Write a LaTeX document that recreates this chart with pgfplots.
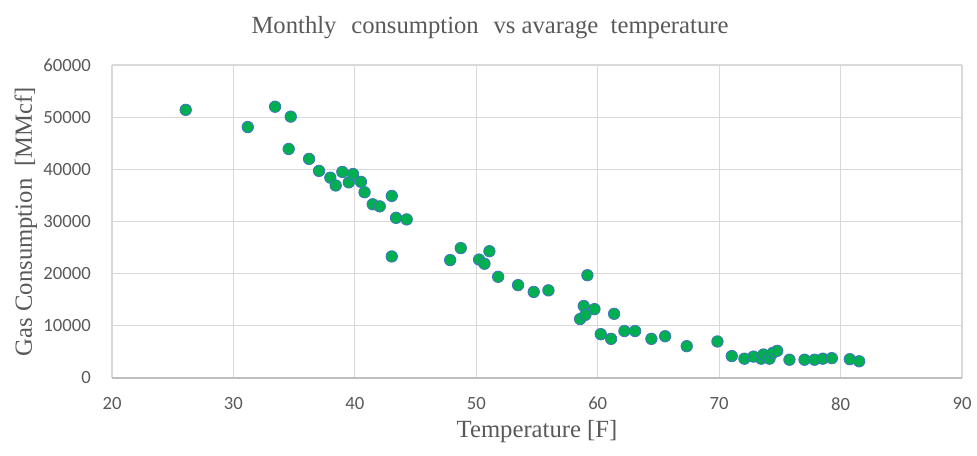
\documentclass[border=0pt]{standalone}
\usepackage{fontspec}
\setmainfont{Liberation Serif}
\newfontfamily\tickfont{Carlito}
\usepackage{pgfplots}
\pgfplotsset{compat=1.18}

\definecolor{txtgray}{HTML}{595959}
\definecolor{gridgray}{HTML}{D9D9D9}
\definecolor{axgray}{HTML}{BFBFBF}
\definecolor{ptgreen}{HTML}{00B050}
\definecolor{ptblue}{HTML}{4472C4}

\begin{document}
\begin{tikzpicture}
\begin{axis}[
	scale only axis,
	width=637.5pt, height=234.75pt,
	xmin=20, xmax=90, ymin=0, ymax=60000,
	xtick={20,30,...,90},
	ytick={0,10000,...,60000},
	scaled ticks=false,
	/pgf/number format/1000 sep={},
	/pgf/number format/assume math mode=true,
	axis x line*=bottom, axis y line*=left,
	x axis line style={axgray, line width=0.9pt, -},
	y axis line style={draw=none},
	major tick length=0pt,
	grid=major,
	major grid style={gridgray, line width=0.8pt},
	ticklabel style={font=\tickfont\fontsize{14}{14}\selectfont, text=txtgray, inner sep=0pt},
	yticklabel style={anchor=east, xshift=-15.75pt},
	xticklabel style={anchor=north, yshift=-14.25pt},
	clip=false,
]
\addplot[only marks, mark=*, mark size=4.3pt,
	mark options={fill=ptgreen, draw=ptblue, line width=0.6pt}] coordinates {
(26.07,51400) (31.18,48100) (33.43,52000) (34.72,50100) (34.55,43900)
(36.23,42000) (37.05,39700) (37.98,38400) (38.42,36900) (38.97,39500)
(39.5,37500) (39.85,39100) (40.5,37600) (40.8,35600) (41.47,33300)
(42.05,32900) (43.04,34900) (43.39,30700) (44.27,30400) (43.04,23300)
(47.85,22600) (48.72,24900) (50.23,22700) (50.67,21900) (51.08,24300)
(51.8,19400) (53.44,17800) (54.73,16500) (55.94,16800) (59.15,19700)
(58.85,13800) (59.73,13200) (58.55,11300) (58.99,12100) (61.35,12300)
(60.25,8400) (61.1,7500) (62.2,9000) (63.08,9000) (64.42,7500)
(65.55,8000) (67.33,6100) (69.86,7000) (71.04,4200) (72.08,3700)
(72.83,4100) (73.46,3700) (73.65,4500) (74.15,3700) (74.42,4800)
(74.78,5200) (75.79,3500) (77.03,3500) (77.85,3500) (78.54,3700)
(79.28,3800) (80.76,3600) (81.53,3200)
};
\end{axis}
% title and axis labels
\node[anchor=base, text=txtgray, font=\fontsize{18.5}{18.5}\selectfont]
	at ([xshift=-35.25pt, yshift=23.5pt]current axis.north)
	{Monthly\hspace{0.6em}consumption\hspace{0.6em}vs avarage\hspace{0.5em}temperature};
\node[anchor=base, text=txtgray, font=\fontsize{18.5}{18.5}\selectfont]
	at ([yshift=-45pt]current axis.south)
	{Temperature [F]};
\node[anchor=base, rotate=90, text=txtgray, font=\fontsize{18.5}{18.5}\selectfont]
	at ([xshift=-60pt]current axis.west)
	{Gas Consumption\hspace{0.5em}[MMcf]};
\pgfresetboundingbox
\path ([xshift=-84pt, yshift=48.75pt]current axis.north west)
	rectangle ([xshift=11.25pt, yshift=-58.5pt]current axis.south east);
\end{tikzpicture}
\end{document}
